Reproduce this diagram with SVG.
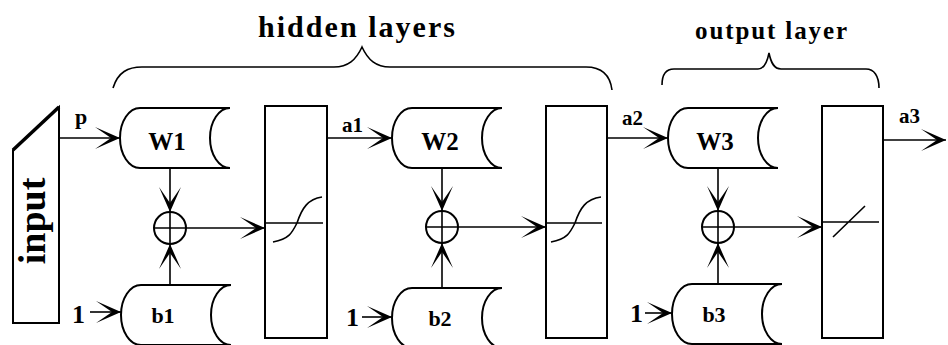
<svg xmlns="http://www.w3.org/2000/svg" width="948" height="345" viewBox="0 0 948 345">
<defs>
<style>
.ln{stroke:#000;stroke-width:1.6;fill:none}
.sh{stroke:#000;stroke-width:2;fill:#fff}
.bx{stroke:#000;stroke-width:2;fill:#fff}
.t{font-family:"Liberation Serif","Times New Roman",serif;font-weight:bold;fill:#000}
.arr{stroke:#000;stroke-width:1.6;fill:none;marker-end:url(#ah)}
</style>
<marker id="ah" viewBox="-27 -12 29 24" refX="0" refY="0" markerWidth="29" markerHeight="24" markerUnits="userSpaceOnUse" orient="auto">
<path d="M0,0 L-25,-11 L-9,0 L-25,11 Z" fill="#000"/>
</marker>
<path id="store" d="M20,0 H110 A20,30 0 0 0 110,60 H20 A20,30 0 0 1 20,0 Z"/>
</defs>
<rect width="948" height="345" fill="#fff"/>

<g id="braces" class="ln">
<path d="M113,88 C118,72 128,67 142,67 H334 C348,67 356,60 362,47 C368,60 376,67 390,67 H586 C600,67 610,74 612,90"/>
<path d="M662,85 C662,74 666,69 674,69 H758 C764,69 767,63 769,53 C771,63 774,69 781,69 H866 C874,69 879,76 879,88"/>
</g>
<text class="t" x="258" y="37" font-size="30" textLength="197" lengthAdjust="spacing">hidden layers</text>
<text class="t" x="695" y="39" font-size="25" textLength="152" lengthAdjust="spacing">output layer</text>

<g id="input">
<path d="M13,150 L59,107 L59,323 L13,323 Z" class="bx"/>
<line x1="13" y1="150" x2="59" y2="107" stroke="#000" stroke-width="3.5"/>
<text class="t" font-size="38" text-anchor="middle" transform="translate(45,221) rotate(-90)">input</text>
</g>

<g id="W1"><use href="#store" class="sh" transform="translate(120,108)"/><text class="t" x="167" y="150" font-size="25" text-anchor="middle">W1</text></g>
<g id="b1"><use href="#store" class="sh" transform="translate(121,285)"/><text class="t" x="163" y="323" font-size="22" text-anchor="middle">b1</text></g>
<g id="sum1"><circle cx="170" cy="228" r="16" class="bx"/><path d="M154,228 H186 M170,212 V244" class="ln"/></g>
<g id="f1"><rect x="265" y="106" width="62" height="232" class="bx"/><path d="M265,223 H323 M273,242 C289,239 292,233 297,223 C302,208 308,199 322,197" class="ln"/></g>

<g id="W2"><use href="#store" class="sh" transform="translate(392,108)"/><text class="t" x="440" y="150" font-size="25" text-anchor="middle">W2</text></g>
<g id="b2"><use href="#store" class="sh" transform="translate(392,288)"/><text class="t" x="440" y="326" font-size="22" text-anchor="middle">b2</text></g>
<g id="sum2"><circle cx="442" cy="227" r="16" class="bx"/><path d="M426,227 H458 M442,211 V243" class="ln"/></g>
<g id="f2"><rect x="546" y="106" width="61" height="232" class="bx"/><path d="M546,223 H602 M551,242 C567,239 570,233 575,223 C580,208 586,199 601,197" class="ln"/></g>

<g id="W3"><use href="#store" class="sh" transform="translate(668,108)"/><text class="t" x="715" y="150" font-size="25" text-anchor="middle">W3</text></g>
<g id="b3"><use href="#store" class="sh" transform="translate(672,284)"/><text class="t" x="714" y="322" font-size="22" text-anchor="middle">b3</text></g>
<g id="sum3"><circle cx="718" cy="227" r="16" class="bx"/><path d="M702,227 H734 M718,211 V243" class="ln"/></g>
<g id="f3"><rect x="822" y="106" width="61" height="232" class="bx"/><path d="M822,222 H879 M833,237 L865,206" class="ln"/></g>

<g id="connectors">
<path class="arr" d="M59,138 H120"/>
<path class="arr" d="M170,168 V212"/>
<path class="arr" d="M170,285 V244"/>
<path class="arr" d="M186,228 H265"/>
<path class="arr" d="M90,312 H121"/>
<path class="arr" d="M327,138 H392"/>
<path class="arr" d="M442,168 V211"/>
<path class="arr" d="M442,288 V243"/>
<path class="arr" d="M458,227 H546"/>
<path class="arr" d="M362,317 H392"/>
<path class="arr" d="M607,138 H668"/>
<path class="arr" d="M718,168 V211"/>
<path class="arr" d="M718,284 V243"/>
<path class="arr" d="M734,227 H822"/>
<path class="arr" d="M645,313 H672"/>
<path class="arr" d="M883,140 H946"/>
</g>

<g id="labels">
<text class="t" x="75" y="124" font-size="22">p</text>
<text class="t" x="72" y="323" font-size="26">1</text>
<text class="t" x="342" y="132" font-size="21">a1</text>
<text class="t" x="346" y="326" font-size="26">1</text>
<text class="t" x="622" y="125" font-size="21">a2</text>
<text class="t" x="630" y="322" font-size="26">1</text>
<text class="t" x="899" y="123" font-size="21">a3</text>
</g>
</svg>
